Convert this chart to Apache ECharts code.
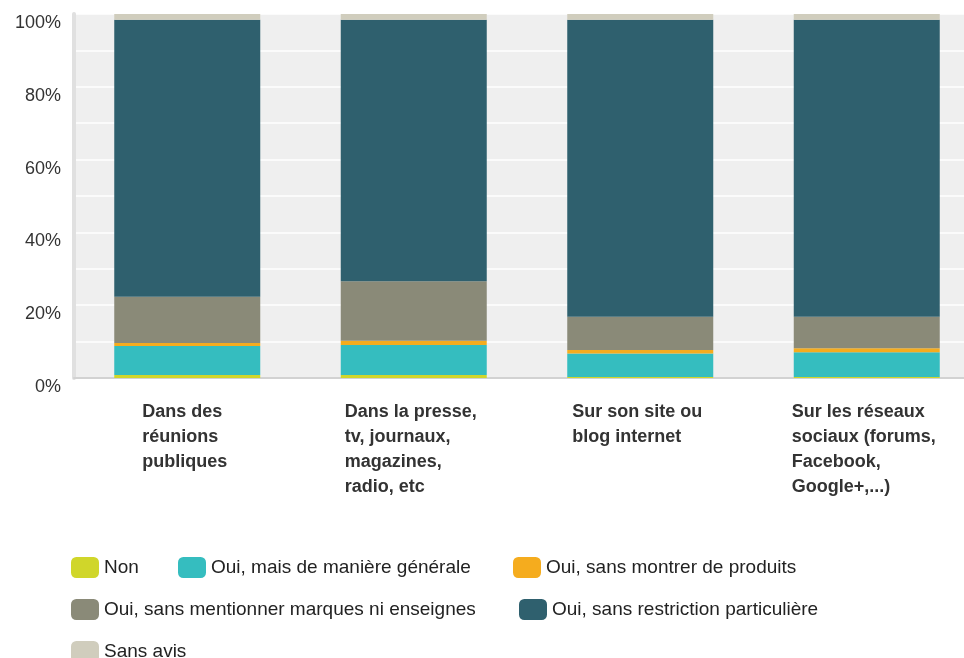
<!DOCTYPE html>
<html>
<head>
<meta charset="utf-8">
<script src="https://cdn.jsdelivr.net/npm/echarts@6/dist/echarts.min.js"></script>
<style>
  html, body { margin: 0; padding: 0; background: #fff; }
  #chart { width: 964px; height: 658px; }
</style>
</head>
<body>
<div id="chart"></div>
<script>
// catégories (axe x)
const categories = [
  'Dans des\nréunions\npubliques',
  'Dans la presse,\ntv, journaux,\nmagazines,\nradio, etc',
  'Sur son site ou\nblog internet',
  'Sur les réseaux\nsociaux (forums,\nFacebook,\nGoogle+,...)'
]

// valeurs en %
const non = [0.8, 0.8, 0.3, 0.3]
const ouiGenerale = [8.0, 8.3, 6.4, 6.8]
const ouiSansProduits = [0.8, 1.1, 1.0, 1.1]
const ouiSansMarques = [12.7, 16.4, 9.1, 8.6]
const ouiSansRestriction = [76.1, 71.8, 81.6, 81.6]
const sansAvis = [1.6, 1.6, 1.6, 1.6]

const seriesNames = [
  'Non',
  'Oui, mais de manière générale',
  'Oui, sans montrer de produits',
  'Oui, sans mentionner marques ni enseignes',
  'Oui, sans restriction particulière',
  'Sans avis'
]
const seriesData = [non, ouiGenerale, ouiSansProduits, ouiSansMarques, ouiSansRestriction, sansAvis]
const colors = ['#d0d62a', '#35bdbf', '#f5ac1e', '#8a8a78', '#2f606e', '#d0cdbd']

// position de chaque entrée de légende
const legendPos = [[71, 557], [178, 557], [513, 557], [71, 599], [519, 599], [71, 641]]

const fontFamily = '"Liberation Sans", Arial, sans-serif'
const labelFont = 'bold 18px ' + fontFamily
const ctx = document.createElement('canvas').getContext('2d')
ctx.font = labelFont

// bloc de texte centré, lignes alignées à gauche (largeur avec espace final)
const rich = {}
categories.forEach((c, i) => {
  const w = Math.max(...c.split('\n').map(l => ctx.measureText(l + ' ').width))
  rich['c' + i] = {
    width: Math.ceil(w),
    align: 'left',
    fontSize: 18,
    fontWeight: 'bold',
    fontFamily: fontFamily,
    lineHeight: 25,
    color: '#333'
  }
})

const chart = echarts.init(document.getElementById('chart'))

const option = {
  animation: false,
  color: colors,
  grid: {
    left: 74,
    top: 14,
    width: 906,
    height: 364,
    outerBoundsMode: 'none',
    show: true,
    backgroundColor: '#efefef',
    borderWidth: 0
  },
  legend: seriesNames.map((name, i) => ({
    data: [name],
    left: legendPos[i][0],
    top: legendPos[i][1],
    padding: 0,
    itemWidth: 28,
    itemHeight: 21,
    icon: 'roundRect',
    selectedMode: false,
    textStyle: {
      fontSize: 19,
      color: '#222',
      fontFamily: fontFamily
    }
  })),
  xAxis: {
    type: 'category',
    data: categories,
    axisLine: { lineStyle: { color: '#d2d2d2', width: 2 } },
    axisTick: { show: false },
    axisLabel: {
      interval: 0,
      margin: 22,
      align: 'center',
      formatter: (value, index) => value.split('\n').map(l => `{c${index}|${l}}`).join('\n'),
      rich: rich
    }
  },
  yAxis: {
    type: 'value',
    min: 0,
    max: 100,
    interval: 10,
    axisLine: { show: true, lineStyle: { color: '#e0e0e0', width: 4 } },
    axisTick: { show: false },
    splitLine: { lineStyle: { color: '#ffffff', width: 1.5 } },
    axisLabel: {
      margin: 13,
      fontSize: 18,
      lineHeight: 18,
      verticalAlign: 'top',
      color: '#333',
      fontFamily: fontFamily,
      formatter: v => (v % 20 === 0 ? v + '%' : '')
    }
  },
  series: seriesNames.map((name, i) => ({
    name: name,
    type: 'bar',
    stack: 'total',
    barWidth: 146,
    data: seriesData[i],
    itemStyle: { color: colors[i] }
  }))
}

chart.setOption(option)
</script>
</body>
</html>
